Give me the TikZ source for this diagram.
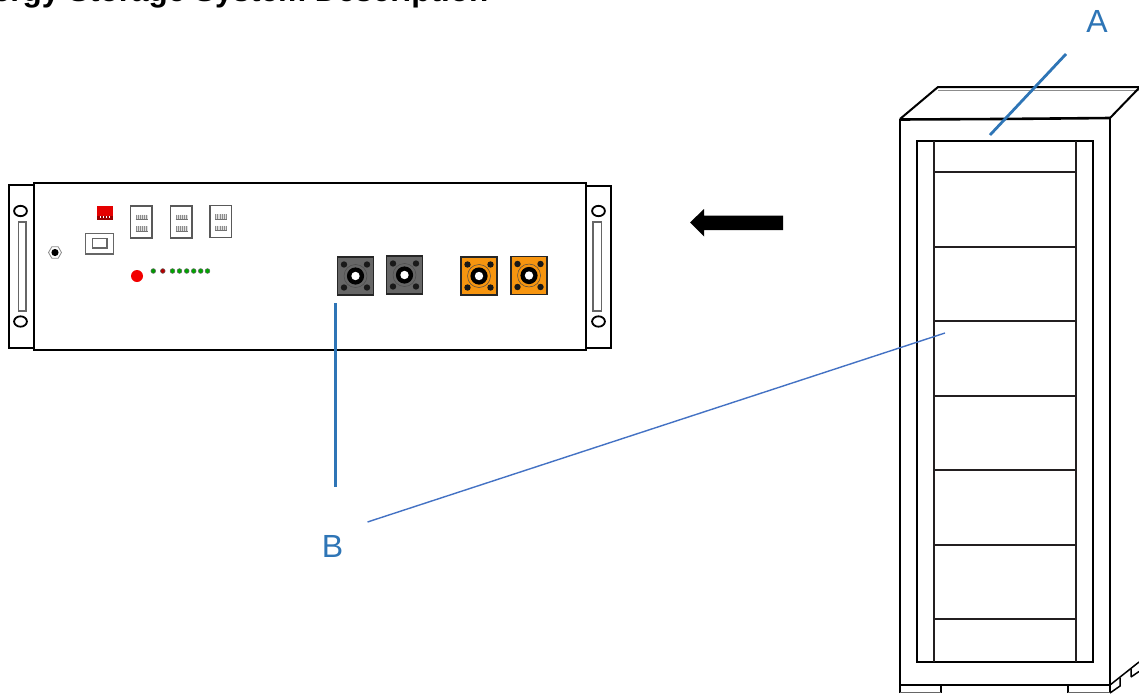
\documentclass[tikz,border=0pt]{standalone}
\usepackage{fontspec}
\setmainfont{Liberation Sans}
\usetikzlibrary{arrows.meta}
\definecolor{callout}{HTML}{2E75B6}
\definecolor{calloutb}{HTML}{4472C4}
\definecolor{cabline}{HTML}{231F20}
\definecolor{termgrey}{HTML}{666666}
\definecolor{termorange}{HTML}{F7950F}
\tikzset{
  x=1pt,y=-1pt,
  panel/.style={draw=black,line width=2.2pt,fill=white},
  cab/.style={draw=black,line width=2pt},
  shelf/.style={draw=cabline,line width=1.8pt},
  thinbox/.style={draw=black!60,line width=1.2pt,fill=white},
  portbox/.style={draw=black!65,line width=1.2pt,fill=white},
  leader/.style={draw=callout,line width=2.8pt},
  lbl/.style={text=callout,font=\fontsize{32}{32}\selectfont,inner sep=0pt},
  led/.style={circle,draw=black!60,line width=0.5pt,fill=#1,minimum size=4.8pt,inner sep=0pt},
}
\newcommand{\terminal}[4]{% x y w colour
  \begin{scope}[shift={(#1,#2)}]
    \fill[#4,draw=black!85,line width=1.4pt] (-18,-19) rectangle (18,19);
    \foreach \a/\b in {-11.5/-11.5,11.5/-11.5,-11.5/11.5,11.5/11.5}
      \fill[black!90] (\a,\b) circle (3.2);
    \draw[black!70,line width=0.5pt] (0,0) circle (11.5);
    \fill[black] (0,0) circle (8.6);
    \fill[white] (0,0) circle (4.2);
  \end{scope}}
\newcommand{\rjport}[2]{% x y(top)
  \begin{scope}[shift={(#1,#2)}]
    \draw[portbox] (0,0) rectangle (21.5,32);
    \foreach \yy in {8.5,20}{
      \fill[black!12] (5,\yy) rectangle (17,\yy+5);
      \foreach \k in {0,...,5}
        \draw[black!45,line width=0.4pt] (5.5+\k*2.1,\yy) -- (5.5+\k*2.1,\yy+5);
      \draw[black!55,line width=0.4pt] (5,\yy+5) -- (17,\yy+5);
    }
  \end{scope}}
\begin{document}
\begin{tikzpicture}
\useasboundingbox (0,0) rectangle (1139,693);
\clip (0,0) rectangle (1139,693);
\fill[white] (0,0) rectangle (1139,693);

% title
\node[anchor=base east,inner sep=0pt,font=\bfseries\fontsize{31.5}{31.5}\selectfont] (title) at (488.5,2) {Energy Storage System Description};

% module: handles
\draw[panel] (9,185) rectangle (34,348);
\draw[panel] (586,186) rectangle (611,348);
\draw[panel] (34,183) rectangle (586,350);
\foreach \cx in {20.5,598.5}{
  \draw[black,line width=1.8pt,fill=white] (\cx,211) ellipse (6.4 and 5.2);
  \draw[black,line width=1.8pt,fill=white] (\cx,321.5) ellipse (6.4 and 5.2);
}
\draw[black!60,line width=1.2pt,fill=white] (18.5,222) rectangle (26,311);
\draw[black!60,line width=1.2pt,fill=white] (593,222) rectangle (601.5,311);

% grounding stud
\draw[black!45,line width=0.8pt,fill=white] (48.5,252.5) -- (51.8,246.8) -- (58.2,246.8) -- (61.5,252.5) -- (58.2,258.2) -- (51.8,258.2) -- cycle;
\fill[black] (55,252.5) circle (3.6);

% DIP switch
\fill[red!90!black] (97,205.5) rectangle (112.5,220);
\fill[black!40!red] (97,216) rectangle (112.5,220);
\foreach \k in {0,1,2,3} \fill[white] (99.6+\k*3.1,215.5) rectangle (100.9+\k*3.1,217.5);

% USB
\draw[thinbox] (85.5,233.5) rectangle (113.5,254);
\draw[thinbox] (92.5,238.5) rectangle (107,248);

% ports
\rjport{130.5}{206}
\rjport{170.5}{206}
\rjport{210}{205.5}

% button and LEDs
\fill[red!95!black] (137,276) circle (6);
\node[led=green!60!black] (led1) at (153.3,271) {};
\node[led=red!70!black] (led2) at (162.8,271) {};
\foreach \lx in {172.5,179.5,186.7,193.7,200.7,207.5}
  \node[led=green!65!black] at (\lx,271) {};

% terminals
\terminal{355.5}{276}{36}{termgrey}
\terminal{404.5}{275}{36}{termgrey}
\terminal{479}{276}{36}{termorange}
\terminal{529}{275.5}{36}{termorange}

% arrow
\fill[black] (690,222.5) -- (704,209) -- (704,215.5) -- (783,215.5) -- (783,230) -- (704,230) -- (704,236.5) -- cycle;

% cabinet
\draw[cab] (900,119) -- (938,87) -- (1139,87);
\draw[black!45,line width=0.8pt] (938,90) -- (1139,90);
\draw[cab] (1110,118) -- (1139,88);
\draw[draw=black,line width=2.6pt] (900,119.5) -- (1000,119) -- (1110.5,118);
\draw[cab] (900,119) -- (900,693);
\draw[cab] (1110,118) -- (1110,693);
\draw[cab] (900,685) -- (1110,685);
\draw[cab] (917,141) rectangle (1093,662);
\draw[shelf] (934,141) -- (934,662);
\draw[shelf] (1076,141) -- (1076,662);
\draw[shelf] (934,172) rectangle (1076,619);
\foreach \sy in {247,321,396,470,545}
  \draw[shelf] (934,\sy) -- (1076,\sy);

% feet
\draw[cab,line width=1.6pt] (900,693) -- (900,685) -- (941,685) -- (941,693);
\draw[cab,line width=1.6pt] (1068,693) -- (1068,685) -- (1110,685);
\draw[black!60,line width=1pt] (900,692.5) -- (941,692.5);
\draw[black!60,line width=1pt] (1068,692.5) -- (1110,692.5);
\draw[black,line width=1.5pt] (1110,685) -- (1139,662);
\draw[black,line width=1.5pt] (1110,693) -- (1120,686) -- (1120,677.5);
\draw[black,line width=1.5pt] (1131,677) -- (1139,671.5) (1131,677) -- (1131,668.5);

% callouts
\node[lbl] (labelA) at (1097,21) {A};
\node[lbl] (labelB) at (332.5,546) {B};
\coordinate (aTop) at (1066,54);
\coordinate (aEnd) at (990,135);
\coordinate (bTop) at (335.5,303);
\coordinate (bEnd) at (335.5,487);
\coordinate (cTop) at (945,333);
\coordinate (cEnd) at (367.5,522);
\draw[leader] (aTop) -- (aEnd);
\draw[leader] (bTop) -- (bEnd);
\draw[draw=calloutb,line width=1.4pt] (cTop) -- (cEnd);
\end{tikzpicture}
\end{document}
